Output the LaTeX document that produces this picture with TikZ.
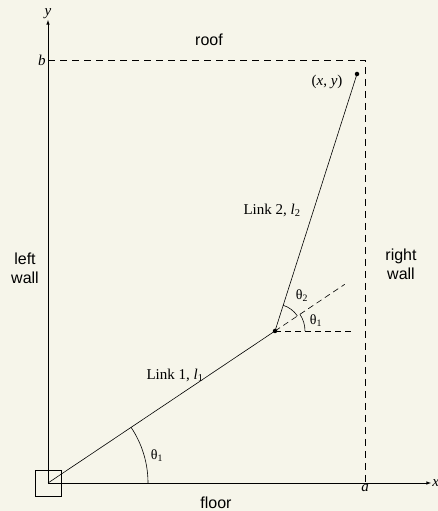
\documentclass[tikz,border=0pt]{standalone}
\usepackage{fontspec}
\setmainfont{Liberation Serif}
\newfontfamily\wallfont{Liberation Sans}
\usepackage{tikz}
\tikzset{x=1pt,y=1pt}
\usetikzlibrary{arrows, calc}
\definecolor{paper}{RGB}{246,245,234}
\tikzset{
  wall/.style={dash pattern=on 7pt off 5pt},
  guide/.style={dash pattern=on 6pt off 4pt},
  wall label/.style={font=\wallfont\fontsize{16}{19}\selectfont, align=center},
  link label/.style={font=\fontsize{15}{17}\selectfont},
  angle label/.style={font=\fontsize{14}{16}\selectfont},
  joint/.style={circle, fill, inner sep=0pt, minimum size=4.5pt},
}

\begin{document}
\begin{tikzpicture}[>=latex, line width=0.6pt]
  \fill[paper] (0,0) rectangle (438,511);
  \useasboundingbox (0,0) rectangle (438,511);
  % base, elbow and hand
  \coordinate (base) at (48,28);
  \node[joint] (elbow) at (275,180) {};
  \node[joint] (hand) at (357,437) {};
  \coordinate (xend) at (431,28);
  \coordinate (yend) at (48,491);
  \coordinate (corner) at (365,451);
  % axes and base square
  \draw[->] (base) -- (xend) node[right, inner sep=1pt, link label] {\textit{x}};
  \draw[->] (base) -- (yend) node[above, inner sep=1pt, link label] {\textit{y}};
  \draw[line width=0.5pt] ($(base)+(-13,-13)$) rectangle ($(base)+(13,13)$);
  % workspace
  \draw[wall] (base |- corner) -- (corner) -- (corner |- base);
  \node[left, inner sep=2pt, link label] at (base |- corner) {\textit{b}};
  \node[below, inner sep=1pt, link label] at (corner |- base) {\textit{a}};
  % links
  \draw (base) -- (elbow.center) -- (hand.center);
  \node[link label] (link1) at (175,136) {Link 1, \textit{l}\textsubscript{1}};
  \node[link label] (link2) at (272,301) {Link 2, \textit{l}\textsubscript{2}};
  \node[link label] (handlabel) at (327,429) {(\textit{x}, \textit{y})};
  % angles
  \draw ($(base)+(100,0)$) arc[start angle=0, end angle=33.8, radius=100];
  \node[angle label] (t1base) at (157,55) {θ\textsubscript{1}};
  \draw[guide] (elbow.center) -- ++(77,0);
  \draw[guide] (elbow.center) -- ++(33.8:84);
  \draw ($(elbow.center)+(30,0)$) arc[start angle=0, end angle=33.8, radius=30];
  \draw ($(elbow.center)+(33.8:27)$) arc[start angle=33.8, end angle=72.3, radius=27];
  \node[angle label] (t2) at (302,215) {θ\textsubscript{2}};
  \node[angle label] (t1) at (316,190) {θ\textsubscript{1}};
  % walls
  \node[wall label] (roof) at (209,471) {roof};
  \node[wall label] (floor) at (216,8) {floor};
  \node[wall label] (leftwall) at (25,243) {left\\wall};
  \node[wall label] (rightwall) at (401,247) {right\\wall};
\end{tikzpicture}
\end{document}
